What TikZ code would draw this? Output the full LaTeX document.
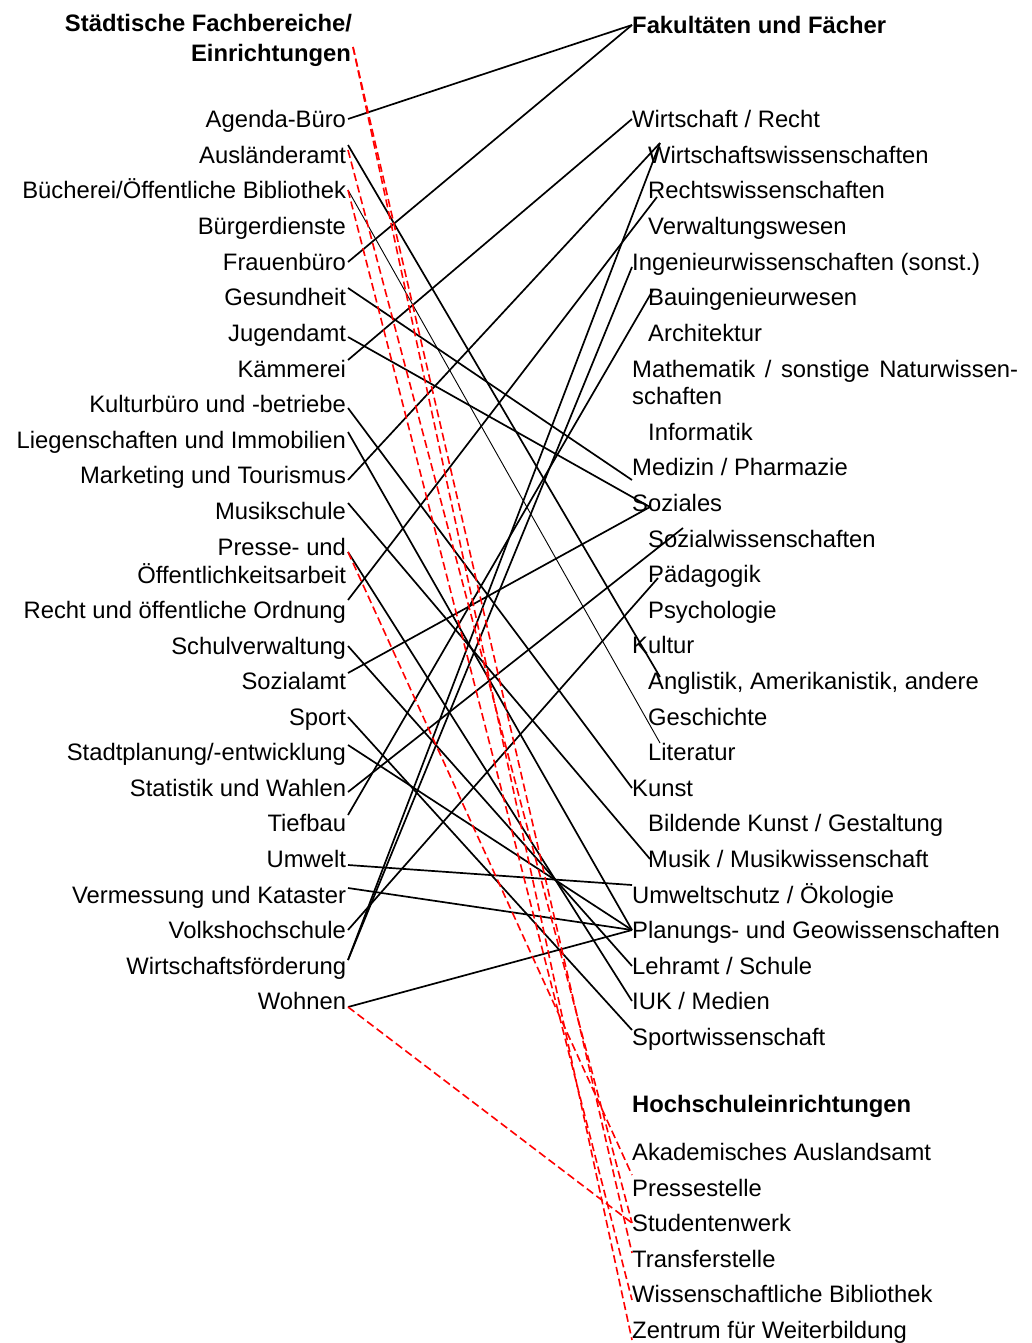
\documentclass[tikz,border=0pt]{standalone}
\usepackage{fontspec}
\setmainfont{Liberation Sans}

\begin{document}
\begin{tikzpicture}[x=1pt, y=-1pt,
  every node/.style={inner sep=0pt, text height=17pt, text depth=0pt,
    font=\fontsize{23.8pt}{27pt}\selectfont},
  lft/.style={anchor=east, outer xsep=2pt},
  rgt/.style={anchor=west},
  hdr/.style={font=\fontsize{23.8pt}{27pt}\selectfont\bfseries},
  link/.style={line width=1.7pt},
  thinlink/.style={line width=0.9pt},
  unilink/.style={red, line width=1.6pt, dash pattern=on 8pt off 4pt}]
  \useasboundingbox (0,0) rectangle (1032,1343);

  % Stadt
  \node[lft, hdr] (head1) at (354,23) {Städtische Fachbereiche/};
  \node[lft, hdr] (head2) at (353,53) {Einrichtungen};
  \node[lft] (agenda) at (348,119) {Agenda-Büro};
  \node[lft] (auslaender) at (348,155) {Ausländeramt};
  \node[lft] (buecherei) at (348,190) {Bücherei/Öffentliche Bibliothek};
  \node[lft] (buerger) at (348,226) {Bürgerdienste};
  \node[lft] (frauen) at (348,262) {Frauenbüro};
  \node[lft] (gesund) at (348,297) {Gesundheit};
  \node[lft] (jugend) at (348,333) {Jugendamt};
  \node[lft] (kaemmerei) at (348,369) {Kämmerei};
  \node[lft] (kultur) at (348,404) {Kulturbüro und -betriebe};
  \node[lft] (liegen) at (348,440) {Liegenschaften und Immobilien};
  \node[lft] (marketing) at (348,475) {Marketing und Tourismus};
  \node[lft] (musikschule) at (348,511) {Musikschule};
  \node[lft] (presse) at (348,547) {Presse- und};
  \node[lft] (oeff) at (348,575) {Öffentlichkeitsarbeit};
  \node[lft] (recht) at (348,610) {Recht und öffentliche Ordnung};
  \node[lft] (schule) at (348,646) {Schulverwaltung};
  \node[lft] (sozialamt) at (348,681) {Sozialamt};
  \node[lft] (sport) at (348,717) {Sport};
  \node[lft] (stadtpl) at (348,752) {Stadtplanung/-entwicklung};
  \node[lft] (statistik) at (348,788) {Statistik und Wahlen};
  \node[lft] (tiefbau) at (348,823) {Tiefbau};
  \node[lft] (umwelt) at (348,859) {Umwelt};
  \node[lft] (vermessung) at (348,895) {Vermessung und Kataster};
  \node[lft] (vhs) at (348,930) {Volkshochschule};
  \node[lft] (wifoe) at (348,966) {Wirtschaftsförderung};
  \node[lft] (wohnen) at (348,1001) {Wohnen};

  % Hochschule
  \node[rgt, hdr] (fak) at (632,25) {Fakultäten und Fächer};
  \node[rgt] (wire) at (632,119) {Wirtschaft / Recht};
  \node[rgt] (wiwi) at (648,155) {Wirtschaftswissenschaften};
  \node[rgt] (rewi) at (648,190) {Rechtswissenschaften};
  \node[rgt] (verw) at (648,226) {Verwaltungswesen};
  \node[rgt] (ing) at (632,262) {Ingenieurwissenschaften (sonst.)};
  \node[rgt] (bauing) at (648,297) {Bauingenieurwesen};
  \node[rgt] (archi) at (648,333) {Architektur};
  \node[rgt] (mathe1) at (632,369) {\makebox[386pt][s]{Mathematik / sonstige Naturwissen-}};
  \node[rgt] (mathe2) at (632,396) {schaften};
  \node[rgt] (info) at (648,432) {Informatik};
  \node[rgt] (med) at (632,467) {Medizin / Pharmazie};
  \node[rgt] (soz) at (632,503) {Soziales};
  \node[rgt] (sowi) at (648,539) {Sozialwissenschaften};
  \node[rgt] (paed) at (648,574) {Pädagogik};
  \node[rgt] (psych) at (648,610) {Psychologie};
  \node[rgt] (kult) at (632,645) {Kultur};
  \node[rgt] (angl) at (648,681) {Anglistik, Amerikanistik, andere};
  \node[rgt] (gesch) at (648,717) {Geschichte};
  \node[rgt] (lit) at (648,752) {Literatur};
  \node[rgt] (kunst) at (632,788) {Kunst};
  \node[rgt] (bild) at (648,823) {Bildende Kunst / Gestaltung};
  \node[rgt] (musik) at (648,859) {Musik / Musikwissenschaft};
  \node[rgt] (umws) at (632,895) {Umweltschutz / Ökologie};
  \node[rgt] (plan) at (632,930) {Planungs- und Geowissenschaften};
  \node[rgt] (lehr) at (632,966) {Lehramt / Schule};
  \node[rgt] (iuk) at (632,1001) {IUK / Medien};
  \node[rgt] (spow) at (632,1037) {Sportwissenschaft};
  \node[rgt, hdr] (hoch) at (632,1104) {Hochschuleinrichtungen};
  \node[rgt] (akad) at (632,1152) {Akademisches Auslandsamt};
  \node[rgt] (pst) at (632,1188) {Pressestelle};
  \node[rgt] (stw) at (632,1223) {Studentenwerk};
  \node[rgt] (trans) at (632,1259) {Transferstelle};
  \node[rgt] (wbib) at (632,1294) {Wissenschaftliche Bibliothek};
  \node[rgt] (zfw) at (632,1330) {Zentrum für Weiterbildung};

  % Fakultaeten
  \draw[link] (agenda.east) -- (fak.west);
  \draw[link] (frauen.east) -- (fak.west);
  \draw[link] ([yshift=9pt]kaemmerei.east) -- (wire.west);
  \draw[link] ([yshift=-5pt]marketing.east) -- ([shift={(12pt,12pt)}]wiwi.west);
  \draw[link] ([yshift=6pt]wifoe.east) -- ([shift={(12pt,12pt)}]wiwi.west);
  \draw[link] ([yshift=10pt]recht.east) -- ([shift={(9pt,-7pt)}]rewi.west);
  \draw[link] ([yshift=6pt]wifoe.east) -- ([yshift=-5pt]ing.west);
  \draw[link] ([yshift=8pt]tiefbau.east) -- ([shift={(5pt,7pt)}]bauing.west);
  \draw[link] ([yshift=9pt]gesund.east) -- ([yshift=-13pt]med.west);
  \draw[link] ([yshift=-4pt]jugend.east) -- ([shift={(18pt,-4pt)}]soz.west);
  \draw[link] ([yshift=8pt]sozialamt.east) -- ([shift={(18pt,-4pt)}]soz.west);
  \draw[link] ([yshift=-4pt]statistik.east) -- ([shift={(35pt,11pt)}]sowi.west);
  \draw[link] (vhs.east) -- ([shift={(10pt,-4pt)}]paed.west);
  \draw[link] ([yshift=10pt]auslaender.east) -- ([shift={(12pt,4pt)}]angl.west);
  \draw[thinlink] (buecherei.east) -- ([shift={(12pt,9pt)}]lit.west);
  \draw[link] ([yshift=-4pt]kultur.east) -- (kunst.west);
  \draw[link] ([yshift=8pt]musikschule.east) -- ([xshift=2pt]musik.west);
  \draw[link] ([yshift=-6pt]umwelt.east) -- ([yshift=10pt]umws.west);
  \draw[link] ([yshift=7pt]vermessung.east) -- (plan.west);
  \draw[link] ([yshift=-6pt]wohnen.east) -- (plan.west);
  \draw[link] ([yshift=7pt]stadtpl.east) -- (plan.west);
  \draw[link] ([yshift=8pt]liegen.east) -- (plan.west);
  \draw[link] (schule.east) -- (lehr.west);
  \draw[link] ([yshift=-5pt]presse.east) -- (iuk.west);
  \draw[link] (sport.east) -- ([yshift=7pt]spow.west);

  % Einrichtungen
  \draw[unilink] ([yshift=6pt]head2.east) -- ([yshift=6pt]trans.west);
  \draw[unilink] ([yshift=6pt]head2.east) -- ([yshift=-10pt]zfw.west);
  \draw[unilink] ([yshift=5pt]auslaender.east) -- (stw.west);
  \draw[unilink] (buecherei.east) -- ([yshift=-6pt]wbib.west);
  \draw[unilink] ([yshift=-5pt]presse.east) -- ([yshift=13pt]pst.west);
  \draw[unilink] ([yshift=-6pt]wohnen.east) -- (stw.west);
\end{tikzpicture}
\end{document}
